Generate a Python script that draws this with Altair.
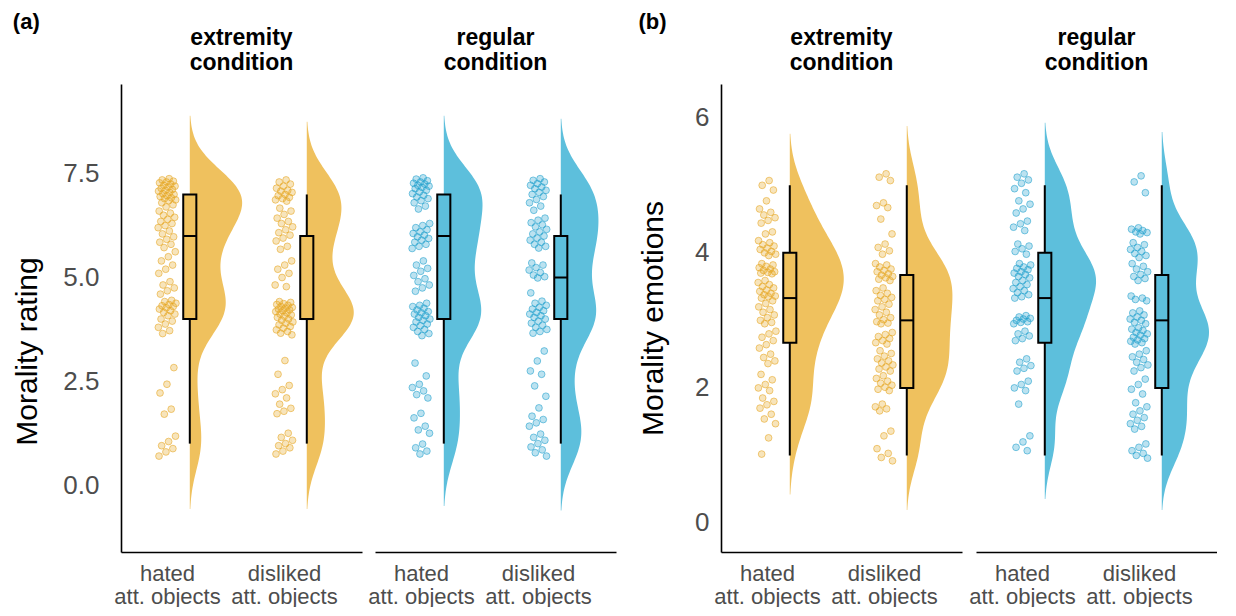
import altair as alt
import pandas as pd

# ---------------- data ----------------
categories = ["hated", "disliked"]
conditions = ["extremity", "regular"]

# Panel (a): Morality rating (individual jittered points, as read)
a_ext_hated = [7.38, 7.35, 7.32, 7.3, 7.28, 7.25, 7.22, 7.2, 7.18, 7.15, 7.12, 7.1, 7.08, 7.05, 7.02, 7.0,
               6.97, 6.95, 6.92, 6.9, 6.87, 6.85, 6.8, 6.75, 6.7, 6.6, 6.55, 6.5, 6.45, 6.4, 6.35, 6.3, 6.25,
               6.2, 6.12, 6.05, 5.98, 5.92, 5.85, 5.8, 5.72, 5.62, 5.5, 5.4, 5.3, 5.2, 5.1, 4.9, 4.82, 4.75,
               4.68, 4.6, 4.45, 4.42, 4.38, 4.35, 4.32, 4.3, 4.27, 4.24, 4.2, 4.16, 4.12, 4.08, 4.0, 3.95,
               3.88, 3.8, 3.72, 3.65, 2.83, 2.43, 2.22, 1.83, 1.71, 1.18, 1.05, 0.95, 0.88, 0.8, 0.7]
a_ext_disliked = [7.35, 7.3, 7.25, 7.2, 7.15, 7.1, 7.08, 7.05, 7.0, 6.97, 6.93, 6.9, 6.87, 6.84, 6.67, 6.6,
                  6.52, 6.43, 6.35, 6.3, 6.22, 6.15, 6.08, 6.02, 5.95, 5.88, 5.75, 5.68, 5.4, 5.3, 5.2, 5.1,
                  5.0, 4.82, 4.78, 4.42, 4.4, 4.37, 4.35, 4.33, 4.3, 4.28, 4.26, 4.24, 4.22, 4.2, 4.18, 4.15,
                  4.12, 4.1, 4.07, 4.04, 4.0, 3.97, 3.93, 3.9, 3.86, 3.82, 3.78, 3.74, 3.7, 3.66, 3.62, 3.0,
                  2.67, 2.4, 2.3, 2.2, 2.1, 1.95, 1.85, 1.78, 1.72, 1.25, 1.15, 1.08, 1.0, 0.95, 0.9, 0.82, 0.75]
a_reg_hated = [7.4, 7.37, 7.33, 7.3, 7.27, 7.25, 7.22, 7.2, 7.17, 7.14, 7.1, 7.06, 7.02, 6.98, 6.94, 6.9,
               6.85, 6.8, 6.72, 6.65, 6.3, 6.25, 6.2, 6.15, 6.1, 6.06, 6.02, 5.98, 5.94, 5.9, 5.85, 5.8, 5.75,
               5.7, 5.4, 5.3, 5.22, 5.15, 5.05, 4.97, 4.9, 4.82, 4.75, 4.67, 4.38, 4.33, 4.3, 4.26, 4.22,
               4.18, 4.15, 4.12, 4.08, 4.04, 4.0, 3.97, 3.93, 3.88, 3.84, 3.8, 3.75, 3.7, 3.65, 3.6, 2.94,
               2.63, 2.43, 2.35, 2.27, 2.18, 2.1, 1.73, 1.62, 1.42, 1.33, 1.25, 0.99, 0.9, 0.82, 0.75]
a_reg_disliked = [7.38, 7.34, 7.3, 7.26, 7.22, 7.18, 7.14, 7.1, 7.05, 7.0, 6.95, 6.88, 6.8, 6.72, 6.62, 6.43,
                  6.38, 6.32, 6.27, 6.22, 6.16, 6.1, 6.05, 6.0, 5.95, 5.9, 5.85, 5.8, 5.75, 5.71, 5.35, 5.3,
                  5.24, 5.18, 5.12, 5.06, 5.02, 4.99, 4.63, 4.43, 4.38, 4.33, 4.28, 4.24, 4.2, 4.16, 4.12,
                  4.08, 4.04, 4.0, 3.95, 3.9, 3.85, 3.8, 3.75, 3.7, 3.66, 3.23, 2.99, 2.75, 2.67, 2.39, 2.14,
                  1.86, 1.66, 1.58, 1.5, 1.42, 1.23, 1.15, 1.08, 1.0, 0.92, 0.85, 0.78, 0.7]

# Panel (b): Morality emotions
b_ext_hated = [5.07, 5.0, 4.93, 4.77, 4.65, 4.6, 4.56, 4.52, 4.48, 4.44, 4.31, 4.28, 4.18, 4.15, 4.12, 4.1,
               4.07, 4.05, 4.02, 4.0, 3.98, 3.96, 3.84, 3.82, 3.8, 3.78, 3.76, 3.74, 3.72, 3.71, 3.7, 3.69,
               3.59, 3.56, 3.53, 3.5, 3.48, 3.45, 3.43, 3.4, 3.38, 3.36, 3.35, 3.33, 3.29, 3.25, 3.2, 3.16,
               3.12, 3.08, 3.04, 3.0, 2.97, 2.95, 2.84, 2.8, 2.75, 2.7, 2.64, 2.59, 2.5, 2.45, 2.4, 2.36,
               2.2, 2.12, 2.05, 2.0, 1.96, 1.85, 1.8, 1.75, 1.7, 1.61, 1.54, 1.47, 1.26, 1.02]
b_ext_disliked = [5.17, 5.12, 5.07, 4.74, 4.7, 4.67, 4.5, 4.28, 4.13, 4.08, 4.03, 3.98, 3.84, 3.82, 3.79,
                  3.76, 3.74, 3.72, 3.69, 3.67, 3.65, 3.63, 3.61, 3.59, 3.48, 3.44, 3.4, 3.37, 3.34, 3.31,
                  3.29, 3.24, 3.2, 3.16, 3.12, 3.08, 3.04, 3.01, 2.98, 2.96, 2.95, 2.82, 2.79, 2.76, 2.73,
                  2.7, 2.67, 2.65, 2.55, 2.51, 2.47, 2.43, 2.4, 2.37, 2.34, 2.31, 2.28, 2.25, 2.18, 2.14,
                  2.1, 2.07, 2.04, 2.01, 1.98, 1.96, 1.76, 1.72, 1.69, 1.66, 1.36, 1.29, 1.1, 1.03, 0.97, 0.92]
b_reg_hated = [5.17, 5.12, 5.08, 5.03, 4.95, 4.89, 4.77, 4.72, 4.65, 4.59, 4.47, 4.43, 4.38, 4.33, 4.13,
               4.1, 4.06, 4.02, 3.98, 3.84, 3.82, 3.79, 3.77, 3.75, 3.72, 3.7, 3.68, 3.65, 3.63, 3.59, 3.56,
               3.53, 3.5, 3.47, 3.44, 3.41, 3.38, 3.35, 3.33, 3.07, 3.05, 3.03, 3.02, 3.0, 2.98, 2.97, 2.95,
               2.84, 2.8, 2.77, 2.73, 2.7, 2.43, 2.38, 2.33, 2.29, 2.25, 2.1, 2.05, 2.0, 1.96, 1.76, 1.29,
               1.2, 1.12, 1.07]
b_reg_disliked = [5.14, 5.05, 4.89, 4.37, 4.35, 4.33, 4.31, 4.3, 4.28, 4.15, 4.12, 4.08, 4.05, 4.02, 3.99,
                  3.96, 3.93, 3.84, 3.8, 3.76, 3.72, 3.68, 3.65, 3.62, 3.59, 3.36, 3.33, 3.31, 3.29, 3.14,
                  3.11, 3.08, 3.05, 3.02, 3.0, 2.97, 2.95, 2.89, 2.87, 2.85, 2.82, 2.8, 2.78, 2.75, 2.73,
                  2.71, 2.69, 2.67, 2.65, 2.55, 2.5, 2.46, 2.42, 2.38, 2.34, 2.3, 2.25, 2.13, 2.05, 1.98,
                  1.91, 1.78, 1.72, 1.66, 1.61, 1.56, 1.52, 1.47, 1.43, 1.39, 1.17, 1.12, 1.07, 1.03, 1.0, 0.96]

# Boxplot statistics: [lower whisker, Q1, median, Q3, upper whisker]
box_a_ext_hated = [1.0, 4.0, 6.0, 7.0, 7.0]
box_a_ext_disliked = [1.0, 4.0, 4.0, 6.0, 7.0]
box_a_reg_hated = [1.0, 4.0, 6.0, 7.0, 7.0]
box_a_reg_disliked = [1.0, 4.0, 5.0, 6.0, 7.0]
box_b_ext_hated = [1.0, 2.67, 3.33, 4.0, 5.0]
box_b_ext_disliked = [1.0, 2.0, 3.0, 3.67, 5.0]
box_b_reg_hated = [1.0, 2.67, 3.33, 4.0, 5.0]
box_b_reg_disliked = [1.0, 2.0, 3.0, 3.67, 5.0]

y_ticks_a = [0.0, 2.5, 5.0, 7.5]
y_ticks_b = [0, 2, 4, 6]

# ---------------- tables ----------------
def points_table(groups):
    rows = []
    for (cond, cat), vals in groups.items():
        for v in vals:
            rows.append({"cond": cond, "cat": cat, "value": v})
    return pd.DataFrame(rows)


def stats_table(groups):
    rows = []
    for (cond, cat), s in groups.items():
        rows.append({"cond": cond, "cat": cat, "lo": s[0], "q1": s[1], "med": s[2], "q3": s[3], "hi": s[4]})
    return pd.DataFrame(rows)


pts_a = points_table({("extremity", 1): a_ext_hated, ("extremity", 2): a_ext_disliked,
                      ("regular", 1): a_reg_hated, ("regular", 2): a_reg_disliked})
pts_b = points_table({("extremity", 1): b_ext_hated, ("extremity", 2): b_ext_disliked,
                      ("regular", 1): b_reg_hated, ("regular", 2): b_reg_disliked})
st_a = stats_table({("extremity", 1): box_a_ext_hated, ("extremity", 2): box_a_ext_disliked,
                    ("regular", 1): box_a_reg_hated, ("regular", 2): box_a_reg_disliked})
st_b = stats_table({("extremity", 1): box_b_ext_hated, ("extremity", 2): box_b_ext_disliked,
                    ("regular", 1): box_b_reg_hated, ("regular", 2): box_b_reg_disliked})

# ---------------- styling ----------------
FONT = "Liberation Sans"
FILL = {"extremity": "#EFC15E", "regular": "#5DBFDC"}
PT = {"extremity": "#E6A41E", "regular": "#1E9FCC"}
W, H = 241, 468
BOX_OFF, BOX_HALF = 0.195, 0.056

xscale = alt.Scale(domain=[0.607, 2.667], nice=False, zero=False)
xaxis = alt.Axis(values=[1, 2], title=None, ticks=False, grid=False,
                 labelExpr="datum.value == 1 ? ['hated', 'att. objects'] : ['disliked', 'att. objects']",
                 domainColor="black", domainWidth=1.6, labelFontSize=22, labelColor="#4d4d4d",
                 labelPadding=11, labelLineHeight=23, labelFont=FONT, labelAlign="center")


def violin_layer(pts, cond, cat, cfg, yscale, yaxis):
    x0 = cat + BOX_OFF
    return (
        alt.Chart(pts)
        .transform_filter(f"datum.cond == '{cond}' && datum.cat == {cat}")
        .transform_density("value", as_=["v", "dens"], bandwidth=cfg["bw"],
                           extent=cfg["extent"], steps=300)
        .transform_filter(f"datum.dens > {cfg['cut']}")
        .transform_calculate(xl=f"{x0}", xr=f"{x0} + {cfg['k']} * datum.dens")
        .mark_area(orient="horizontal", color=FILL[cond])
        .encode(y=alt.Y("v:Q", scale=yscale, axis=yaxis),
                x=alt.X("xr:Q", scale=xscale, axis=xaxis),
                x2="xl:Q")
    )


def facet(pts, st, cond, cfg, show_y):
    yscale = alt.Scale(domain=cfg["domain"], nice=False, zero=False)
    if show_y:
        yaxis = alt.Axis(values=cfg["ticks"], format=cfg["fmt"], title=cfg["title"], ticks=False,
                         grid=False, domainColor="black", domainWidth=1.6, labelFontSize=26,
                         labelColor="#4d4d4d", labelPadding=cfg["lpad"], labelFont=FONT, titleFont=FONT,
                         titleFontSize=30, titleFontWeight="normal", titleColor="black",
                         titlePadding=cfg["tpad"], titleY=cfg["titleY"])
    else:
        yaxis = None
    filt = f"datum.cond == '{cond}'"

    v1 = violin_layer(pts, cond, 1, cfg, yscale, yaxis)
    v2 = violin_layer(pts, cond, 2, cfg, yscale, yaxis)
    points = (
        alt.Chart(pts)
        .transform_filter(filt)
        .transform_window(rn="row_number()", groupby=["cat"])
        .transform_calculate(jx="datum.cat + ((datum.rn * 0.6180339887) % 1 - 0.5) * 0.155")
        .mark_circle(size=46, fill=PT[cond], fillOpacity=0.3, stroke=PT[cond], strokeOpacity=0.55,
                     strokeWidth=1)
        .encode(x=alt.X("jx:Q", scale=xscale, axis=xaxis), y=alt.Y("value:Q", scale=yscale, axis=yaxis))
    )
    base = (
        alt.Chart(st)
        .transform_filter(filt)
        .transform_calculate(bx=f"datum.cat + {BOX_OFF}",
                             bl=f"datum.cat + {BOX_OFF - BOX_HALF}",
                             br=f"datum.cat + {BOX_OFF + BOX_HALF}")
    )
    whisker = base.mark_rule(color="black", strokeWidth=2).encode(
        x=alt.X("bx:Q", scale=xscale, axis=xaxis), y=alt.Y("lo:Q", scale=yscale, axis=yaxis), y2="hi:Q")
    box = base.mark_rect(fill=FILL[cond], stroke="black", strokeWidth=2).encode(
        x=alt.X("bl:Q", scale=xscale, axis=xaxis), x2="br:Q",
        y=alt.Y("q1:Q", scale=yscale, axis=yaxis), y2="q3:Q")
    median = base.mark_rule(color="black", strokeWidth=2).encode(
        x=alt.X("bl:Q", scale=xscale, axis=xaxis), x2="br:Q", y=alt.Y("med:Q", scale=yscale, axis=yaxis))

    return alt.layer(v1, v2, points, whisker, box, median).properties(
        width=W, height=H,
        title=alt.TitleParams([cond, "condition"], fontSize=23, fontWeight="bold", lineHeight=25,
                              anchor="middle", frame="group", offset=9, color="black", font=FONT),
    )


cfg_a = dict(domain=[-1.61, 9.66], ticks=y_ticks_a, fmt=".1f", title="Morality rating", tpad=20,
             lpad=22, titleY=267, bw=0.6, extent=[-1.5, 9.6], k=1.72, cut=0.0025)
cfg_b = dict(domain=[-0.43, 6.50], ticks=y_ticks_b, fmt="d", title="Morality emotions", tpad=26,
             lpad=12, titleY=234, bw=0.34, extent=[-0.4, 6.45], k=1.1, cut=0.004)

panel_a = alt.hconcat(
    facet(pts_a, st_a, "extremity", cfg_a, True), facet(pts_a, st_a, "regular", cfg_a, False),
    spacing=5,
    title=alt.TitleParams("(a)", anchor="start", fontSize=22, fontWeight="bold", offset=-7,
                          color="black", font=FONT),
)
panel_b = alt.hconcat(
    facet(pts_b, st_b, "extremity", cfg_b, True), facet(pts_b, st_b, "regular", cfg_b, False),
    spacing=6,
    title=alt.TitleParams("(b)", anchor="start", fontSize=22, fontWeight="bold", offset=-7,
                          color="black", font=FONT),
)

chart = (
    alt.hconcat(panel_a, panel_b, spacing=22)
    .properties(padding={"left": 4, "top": 3, "right": 0, "bottom": 0})
    .configure(font=FONT)
    .configure_view(strokeWidth=0)
)

chart.save("out.html", embed_options={"renderer": "svg", "actions": False})
